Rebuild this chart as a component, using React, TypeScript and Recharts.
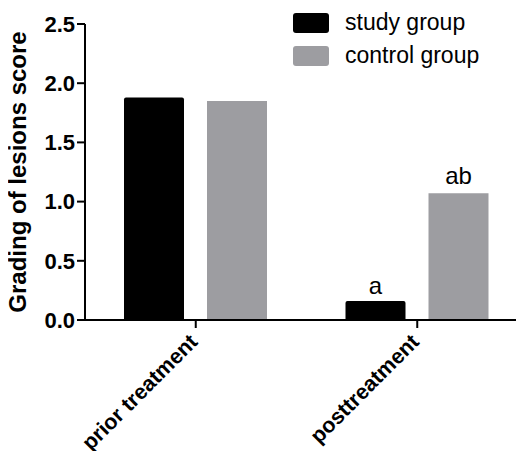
import React from "react";
import { BarChart, Bar, XAxis, YAxis, LabelList } from "recharts";

const categories = ["prior treatment", "posttreatment"];
const studyValues = [1.88, 0.16];
const controlValues = [1.85, 1.07];
const studyMarks = ["", "a"];
const controlMarks = ["", "ab"];
const yTicks = [0, 0.5, 1.0, 1.5, 2.0, 2.5];
const legendItems = [
  { label: "study group", color: "#000" },
  { label: "control group", color: "#9d9da1" },
];

const FONT = "'Liberation Sans', Arial, Helvetica, sans-serif";
const GRAY = "#9d9da1";

const data = categories.map((name, i) => ({
  name,
  study: studyValues[i],
  control: controlValues[i],
  studyMark: studyMarks[i],
  controlMark: controlMarks[i],
}));

// Rotated category label, right end sits under the tick
const XTick = ({ x, y, payload }: any) => (
  <g transform={`translate(${x - 6},${y + 4})`}>
    <text
      transform="rotate(-45)"
      textAnchor="end"
      dy={13}
      fontFamily={FONT}
      fontWeight="bold"
      fontSize={21.5}
      fill="#000"
    >
      {payload.value}
    </text>
  </g>
);

const LegendBox = () => (
  <div
    style={{
      position: "absolute",
      top: 6,
      left: 293,
      fontFamily: FONT,
      fontSize: 23,
      color: "#000",
    }}
  >
    {legendItems.map((item) => (
      <div key={item.label} style={{ display: "flex", alignItems: "center", height: 33 }}>
        <span
          style={{
            display: "inline-block",
            width: 36,
            height: 20,
            borderRadius: 3,
            background: item.color,
            marginRight: 16,
          }}
        />
        <span>{item.label}</span>
      </div>
    ))}
  </div>
);

export default function App() {
  return (
    <div
      style={{
        position: "relative",
        margin: -8,
        width: 524,
        height: 459,
        overflow: "hidden",
        background: "#fff",
      }}
    >
      <BarChart
        width={540}
        height={459}
        data={data}
        margin={{ top: 24, right: 12, left: 0, bottom: 0 }}
        barGap={23}
        barSize={60}
      >
        <XAxis
          dataKey="name"
          height={139}
          axisLine={{ stroke: "#000", strokeWidth: 2 }}
          tickLine={{ stroke: "#000", strokeWidth: 2 }}
          tickSize={8}
          tick={<XTick />}
          interval={0}
        />
        <YAxis
          width={85}
          domain={[0, 2.5]}
          ticks={yTicks}
          tickFormatter={(v: number) => v.toFixed(1)}
          axisLine={{ stroke: "#000", strokeWidth: 2 }}
          tickLine={{ stroke: "#000", strokeWidth: 2 }}
          tickSize={8}
          tick={{ fill: "#000", fontFamily: FONT, fontWeight: "bold", fontSize: 22 }}
          label={{
            value: "Grading of lesions score",
            angle: -90,
            position: "insideLeft",
            offset: 17,
            style: {
              textAnchor: "middle",
              fontFamily: FONT,
              fontWeight: "bold",
              fontSize: 24,
              fill: "#000",
            },
          }}
        />
        <Bar dataKey="study" fill="#000" radius={[2, 2, 0, 0]} isAnimationActive={false}>
          <LabelList
            dataKey="studyMark"
            position="top"
            offset={7}
            style={{ fontFamily: FONT, fontSize: 24, fill: "#000" }}
          />
        </Bar>
        <Bar dataKey="control" fill={GRAY} isAnimationActive={false}>
          <LabelList
            dataKey="controlMark"
            position="top"
            offset={9}
            style={{ fontFamily: FONT, fontSize: 24, fill: "#000" }}
          />
        </Bar>
      </BarChart>
      <LegendBox />
    </div>
  );
}
